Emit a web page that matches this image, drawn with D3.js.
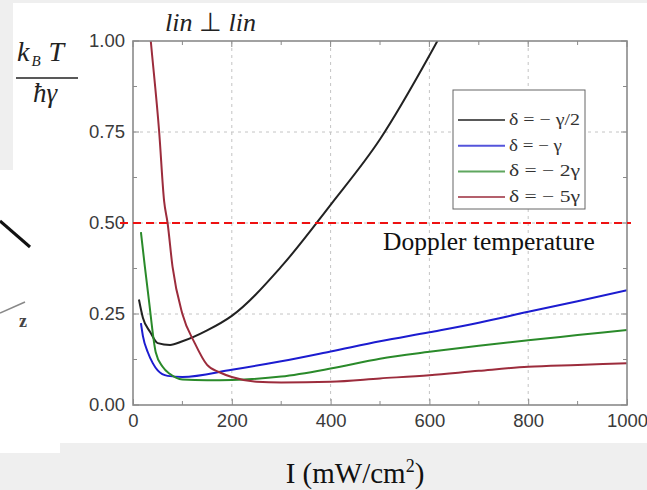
<!DOCTYPE html>
<html>
<head>
<meta charset="utf-8">
<script src="https://cdn.jsdelivr.net/npm/d3@7"></script>
<style>
  html, body { margin: 0; padding: 0; background: #fff; }
  svg { display: block; }
</style>
</head>
<body>
<svg id="chart" width="647" height="490"></svg>
<script>
// Temperature k_B T / (ħγ) versus intensity I (mW/cm²), lin ⊥ lin configuration
const xTicks = [0, 200, 400, 600, 800, 1000];
const yTicks = [0, 0.25, 0.5, 0.75, 1.0];
const dopplerLimit = 0.5;

const seriesNames = ["δ = − γ/2", "δ = − γ", "δ = − 2γ", "δ = − 5γ"];
const seriesColors = ["#222222", "#1c1cd0", "#2a8a2a", "#9c2c3c"];

const halfGamma = [[12,0.29],[20,0.24],[35,0.2],[50,0.17],[75,0.165],[100,0.175],[150,0.205],[200,0.245],[300,0.38],[400,0.55],[500,0.73],[600,0.96],[640,1.06]];
const oneGamma = [[16,0.225],[20,0.19],[30,0.145],[40,0.115],[50,0.095],[70,0.08],[100,0.077],[200,0.097],[300,0.12],[400,0.147],[500,0.175],[600,0.2],[700,0.226],[800,0.256],[900,0.285],[1000,0.315]];
const twoGamma = [[16,0.475],[24,0.38],[32,0.29],[46,0.145],[60,0.105],[75,0.085],[100,0.07],[150,0.068],[200,0.069],[300,0.078],[400,0.1],[500,0.127],[600,0.146],[700,0.163],[800,0.178],[900,0.192],[1000,0.206]];
const fiveGamma = [[30,1.09],[36,1.0],[53,0.75],[63,0.56],[70,0.5],[80,0.38],[100,0.25],[125,0.17],[150,0.11],[175,0.09],[200,0.077],[250,0.064],[300,0.062],[400,0.064],[500,0.073],[600,0.082],[700,0.094],[800,0.105],[900,0.11],[1000,0.115]];
const seriesData = [halfGamma, oneGamma, twoGamma, fiveGamma];

const svg = d3.select("#chart");
const W = 647, H = 490;
const plot = { left: 133, right: 627, top: 41, bottom: 405 };

// page panels
const bg = "#efefef";
svg.append("rect").attr("x", 0).attr("y", 0).attr("width", W).attr("height", 3).attr("fill", bg);
svg.append("rect").attr("x", 0).attr("y", 0).attr("width", 13).attr("height", 170).attr("fill", bg);
svg.append("rect").attr("x", 60).attr("y", 443).attr("width", W - 60).attr("height", H - 443).attr("fill", bg);
svg.append("rect").attr("x", 0).attr("y", 453).attr("width", 60).attr("height", H - 453).attr("fill", bg);

// fragments of the neighbouring sketch on the left
svg.append("line").attr("x1", 0).attr("y1", 221).attr("x2", 30).attr("y2", 247)
  .attr("stroke", "#111").attr("stroke-width", 3);
svg.append("line").attr("x1", 0).attr("y1", 313).attr("x2", 25).attr("y2", 302)
  .attr("stroke", "#888").attr("stroke-width", 1.5);
svg.append("text").attr("x", 19).attr("y", 327).text("z")
  .attr("font-family", "Liberation Serif, serif").attr("font-weight", "bold")
  .attr("font-size", 18).attr("fill", "#444");

const x = d3.scaleLinear().domain([0, 1000]).range([plot.left, plot.right]);
const y = d3.scaleLinear().domain([0, 1]).range([plot.bottom, plot.top]);

const g = svg.append("g");

// grid
g.selectAll(".vgrid").data(xTicks.filter(d => d > 0 && d < 1000)).enter().append("line")
  .attr("x1", d => x(d)).attr("x2", d => x(d)).attr("y1", plot.top).attr("y2", plot.bottom)
  .attr("stroke", "#c4c4c4").attr("stroke-width", 1).attr("stroke-dasharray", "3,4");
g.selectAll(".hgrid").data(yTicks.filter(d => d > 0 && d < 1)).enter().append("line")
  .attr("x1", plot.left).attr("x2", plot.right).attr("y1", d => y(d)).attr("y2", d => y(d))
  .attr("stroke", "#c4c4c4").attr("stroke-width", 1).attr("stroke-dasharray", "3,4");

// curves
svg.append("clipPath").attr("id", "clip").append("rect")
  .attr("x", plot.left).attr("y", plot.top).attr("width", plot.right - plot.left).attr("height", plot.bottom - plot.top);
const line = d3.line().x(d => x(d[0])).y(d => y(d[1])).curve(d3.curveMonotoneX);
g.append("g").attr("clip-path", "url(#clip)").selectAll("path").data(seriesData).enter().append("path")
  .attr("d", line).attr("fill", "none")
  .attr("stroke", (d, i) => seriesColors[i]).attr("stroke-width", 2).attr("stroke-linejoin", "round");

// axes: ticks pointing inward on all four sides
const tickFont = "Liberation Sans, Arial, sans-serif";
const minorX = d3.range(0, 1001, 100);
const minorY = d3.range(0, 1.0001, 0.125);
const axisColor = "#8a8a8a";

const bottomAxis = d3.axisBottom(x).tickValues(xTicks).tickSize(-6).tickPadding(9).tickFormat(d3.format("d"));
const leftAxis = d3.axisLeft(y).tickValues(yTicks).tickSize(0).tickPadding(8).tickFormat(d3.format(".2f"));

function styleAxis(sel) {
  sel.select(".domain").remove();
  sel.selectAll(".tick line").attr("stroke", axisColor);
  sel.selectAll(".tick text").attr("fill", "#3a3a3a").attr("font-family", tickFont).attr("font-size", 18.5);
}
svg.append("g").attr("transform", `translate(0,${plot.bottom})`).call(bottomAxis).call(styleAxis);
svg.append("g").attr("transform", `translate(${plot.left},0)`).call(leftAxis).call(styleAxis);

// minor ticks
const ticksG = svg.append("g").attr("stroke", axisColor).attr("stroke-width", 1);
minorX.forEach(v => {
  const len = v % 200 === 0 ? 6 : 4;
  ticksG.append("line").attr("x1", x(v)).attr("x2", x(v)).attr("y1", plot.top).attr("y2", plot.top + len);
  if (v % 200 !== 0) ticksG.append("line").attr("x1", x(v)).attr("x2", x(v)).attr("y1", plot.bottom).attr("y2", plot.bottom - len);
});
minorY.forEach(v => {
  const len = Math.abs(v * 4 - Math.round(v * 4)) < 1e-6 ? 6 : 4;
  ticksG.append("line").attr("x1", plot.left).attr("x2", plot.left + len).attr("y1", y(v)).attr("y2", y(v));
  ticksG.append("line").attr("x1", plot.right).attr("x2", plot.right - len).attr("y1", y(v)).attr("y2", y(v));
});

// frame
svg.append("rect").attr("x", plot.left).attr("y", plot.top)
  .attr("width", plot.right - plot.left).attr("height", plot.bottom - plot.top)
  .attr("fill", "none").attr("stroke", axisColor).attr("stroke-width", 1.6);

// Doppler temperature limit
svg.append("line").attr("x1", 120).attr("x2", 631).attr("y1", y(dopplerLimit)).attr("y2", y(dopplerLimit))
  .attr("stroke", "#ee1111").attr("stroke-width", 2).attr("stroke-dasharray", "8,5");
const serif = "Liberation Serif, Times New Roman, serif";
svg.append("text").attr("x", 383).attr("y", 250).text("Doppler temperature")
  .attr("font-family", serif).attr("font-size", 25.5).attr("fill", "#111");

// legend
const lg = svg.append("g");
lg.append("rect").attr("x", 453).attr("y", 90).attr("width", 132).attr("height", 119)
  .attr("fill", "#fff").attr("stroke", "#666").attr("stroke-width", 1);
seriesNames.forEach((name, i) => {
  const yy = 120 + i * 25.7;
  lg.append("line").attr("x1", 458).attr("x2", 505).attr("y1", yy).attr("y2", yy)
    .attr("stroke", seriesColors[i]).attr("stroke-width", 2).attr("opacity", 0.75);
  lg.append("text").attr("x", 509).attr("y", yy + 5).text(name)
    .attr("font-family", serif).attr("font-size", 16).attr("fill", "#333")
    .attr("textLength", 71 - (i === 1 ? 18 : 0)).attr("lengthAdjust", "spacingAndGlyphs");
});

// title
const title = svg.append("text").attr("x", 165).attr("y", 31)
  .attr("font-family", serif).attr("font-size", 26).attr("fill", "#222");
title.append("tspan").attr("font-style", "italic").text("lin ");
title.append("tspan").text("⊥");
title.append("tspan").attr("font-style", "italic").text(" lin");

// y label as a fraction
const num = svg.append("text").attr("x", 17).attr("y", 61)
  .attr("font-family", serif).attr("font-size", 28).attr("font-style", "italic").attr("fill", "#222");
num.append("tspan").text("k");
num.append("tspan").attr("font-size", 15).attr("dy", 5).attr("dx", 2).text("B");
num.append("tspan").attr("dy", -5).attr("dx", 8).text("T");
svg.append("line").attr("x1", 16).attr("x2", 78).attr("y1", 78).attr("y2", 78)
  .attr("stroke", "#222").attr("stroke-width", 1.5);
svg.append("text").attr("x", 45).attr("y", 102).attr("text-anchor", "middle")
  .attr("font-family", serif).attr("font-size", 27).attr("font-style", "italic").attr("fill", "#222")
  .text("ħγ");

// x label
const xl = svg.append("text").attr("x", 355).attr("y", 483).attr("text-anchor", "middle")
  .attr("font-family", serif).attr("font-size", 29).attr("fill", "#111");
xl.append("tspan").text("I (mW/cm");
xl.append("tspan").attr("font-size", 18).attr("dy", -11).text("2");
xl.append("tspan").attr("dy", 11).text(")");
</script>
</body>
</html>
